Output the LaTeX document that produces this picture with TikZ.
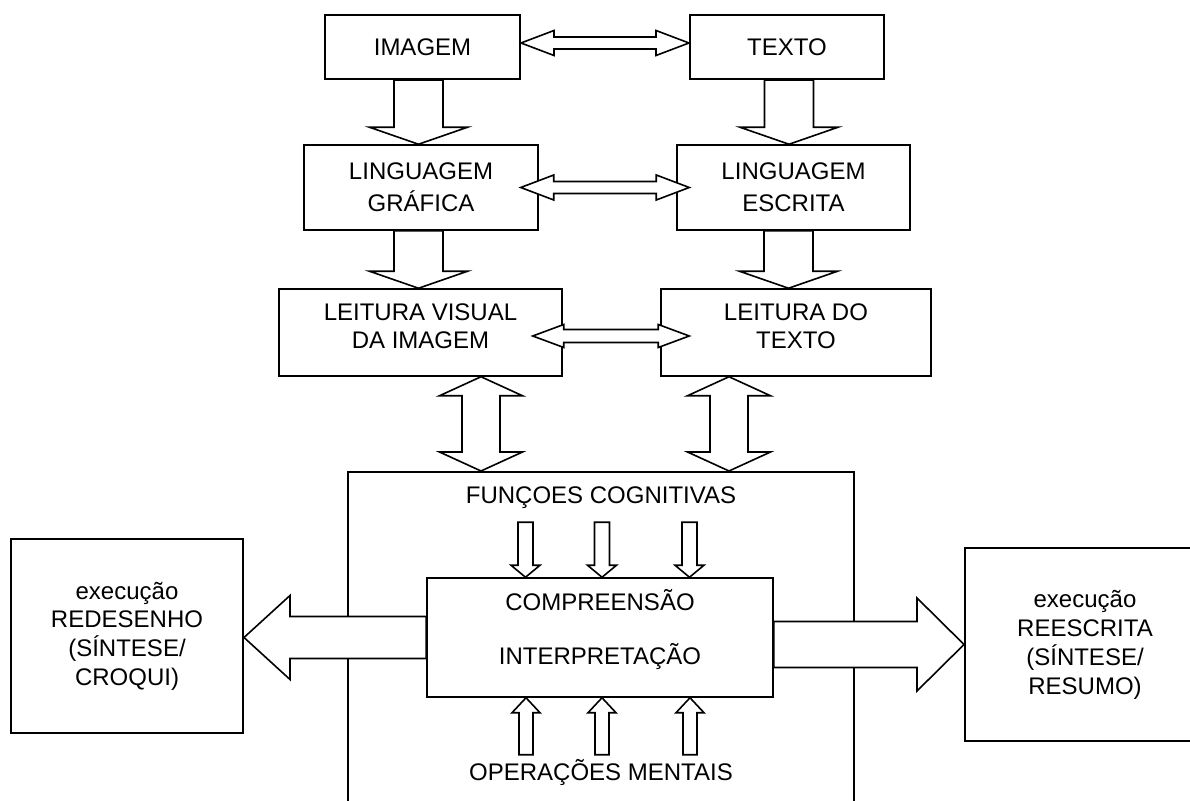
\documentclass[tikz,border=0pt]{standalone}
\usepackage{fontspec}
\setmainfont{Liberation Sans}
\usetikzlibrary{calc,positioning}
\tikzstyle{caixa} = [rectangle, draw=black, line width=0.75pt, text centered, align=center, inner sep=0pt]
\tikzstyle{caixa2} = [caixa, line width=1pt]
\tikzstyle{rotulo} = [align=center, inner sep=0pt]
\tikzset{
  seta/.style n args={3}{draw=black, fill=white, line width=0.8pt, to path={
    ($(\tikztostart)!#1!90:(\tikztotarget)$)
    -- ($($(\tikztotarget)!#3!(\tikztostart)$)!#1!90:(\tikztotarget)$)
    -- ($($(\tikztotarget)!#3!(\tikztostart)$)!#2!90:(\tikztotarget)$)
    -- (\tikztotarget)
    -- ($($(\tikztotarget)!#3!(\tikztostart)$)!#2!-90:(\tikztotarget)$)
    -- ($($(\tikztotarget)!#3!(\tikztostart)$)!#1!-90:(\tikztotarget)$)
    -- ($(\tikztostart)!#1!-90:(\tikztotarget)$)
    -- cycle}},
  setadupla/.style n args={3}{draw=black, fill=white, line width=0.8pt, to path={
    (\tikztostart)
    -- ($($(\tikztostart)!#3!(\tikztotarget)$)!#2!90:(\tikztotarget)$)
    -- ($($(\tikztostart)!#3!(\tikztotarget)$)!#1!90:(\tikztotarget)$)
    -- ($($(\tikztotarget)!#3!(\tikztostart)$)!#1!90:(\tikztotarget)$)
    -- ($($(\tikztotarget)!#3!(\tikztostart)$)!#2!90:(\tikztotarget)$)
    -- (\tikztotarget)
    -- ($($(\tikztotarget)!#3!(\tikztostart)$)!#2!-90:(\tikztotarget)$)
    -- ($($(\tikztotarget)!#3!(\tikztostart)$)!#1!-90:(\tikztotarget)$)
    -- ($($(\tikztostart)!#3!(\tikztotarget)$)!#1!-90:(\tikztotarget)$)
    -- ($($(\tikztostart)!#3!(\tikztotarget)$)!#2!-90:(\tikztotarget)$)
    -- cycle}}
}
\begin{document}
\begin{tikzpicture}[x=0.5pt, y=-0.5pt, font=\fontsize{12}{14}\selectfont]
\useasboundingbox[fill=white] (0,0) rectangle (1190,801);
\clip (0,0) rectangle (1190,801);
% imagem e texto
\node (img) [caixa2, minimum width=97.5pt, minimum height=32pt] at (422.5,47) {IMAGEM};
\node (txt) [caixa2, minimum width=97pt, minimum height=32pt] at (787,47) {TEXTO};
% linguagens
\node (lgraf) [caixa, minimum width=117pt, minimum height=42.5pt] at (421,187.5) {LINGUAGEM\\[2pt]GRÁFICA};
\node (lescr) [caixa, minimum width=116.5pt, minimum height=42.5pt] at (793.5,187.5) {LINGUAGEM\\[2pt]ESCRITA};
% leituras
\node (lvis) [caixa, minimum width=141.5pt, minimum height=43.5pt] at (420.5,332.5) {};
\node (lvistxt) [rotulo] at ([yshift=3pt]lvis.center) {LEITURA VISUAL\\DA IMAGEM};
\node (ltex) [caixa, minimum width=135pt, minimum height=43.5pt] at (796,332.5) {};
\node (ltextxt) [rotulo] at ([yshift=3pt]ltex.center) {LEITURA DO\\TEXTO};
% quadro central
\node (quadro) [caixa2, minimum width=253pt, minimum height=179pt] at (601,651) {};
\node (fc) [rotulo] at (601,498) {FUNÇOES COGNITIVAS};
\node (nucleo) [caixa, minimum width=173pt, minimum height=59.5pt] at (600,637.5) {};
\node (nucleotxt) [rotulo] at ([yshift=4pt]nucleo.center) {COMPREENSÃO\\[13pt]INTERPRETAÇÃO};
\node (om) [rotulo] at (601,773) {OPERAÇÕES MENTAIS};
% execucoes
\node (redes) [caixa2, minimum width=116pt, minimum height=97pt, font=\fontsize{12}{14.3}\selectfont] at (127,636) {execução\\REDESENHO\\(SÍNTESE/\\CROQUI)};
\node (reesc) [caixa2, minimum width=120pt, minimum height=96.5pt, font=\fontsize{12}{14.5}\selectfont] at (1085,644.5) {execução\\REESCRITA\\(SÍNTESE/\\RESUMO)};

% setas duplas horizontais
\draw [setadupla={3pt}{6.25pt}{16.5pt}] ([yshift=2pt]img.east) to ([yshift=2pt]txt.west);
\draw [setadupla={3pt}{6.25pt}{16.5pt}] ([xshift=-9pt]lgraf.east) to ([xshift=6.5pt]lescr.west);
\draw [setadupla={3.25pt}{5.75pt}{15.5pt}] ([xshift=-15pt,yshift=-1.75pt]lvis.east) to ([xshift=14.5pt,yshift=-1.75pt]ltex.west);
% setas para baixo
\coordinate (d1) at ([xshift=-2pt]img.south);
\coordinate (d2) at ([xshift=1pt]txt.south);
\coordinate (d3) at ([xshift=-1.25pt]lgraf.south);
\coordinate (d4) at ([xshift=-2.5pt]lescr.south);
\draw [seta={12.25pt}{24.5pt}{8.5pt}] (d1) to (d1 |- lgraf.north);
\draw [seta={12.25pt}{24.5pt}{8.5pt}] (d2) to (d2 |- lescr.north);
\draw [seta={12.25pt}{24.5pt}{8.5pt}] (d3) to (d3 |- lvis.north);
\draw [seta={12.25pt}{24.5pt}{8.5pt}] (d4) to (d4 |- ltex.north);
% setas duplas verticais
\coordinate (v1) at ([xshift=30.25pt]lvis.south);
\coordinate (v2) at ([xshift=-33.5pt]ltex.south);
\draw [setadupla={9.5pt}{20.75pt}{9.5pt}] (v1) to (v1 |- quadro.north);
\draw [setadupla={9.5pt}{20.75pt}{9.5pt}] (v2) to (v2 |- quadro.north);
% setinhas
\foreach \dx [count=\i] in {-37.25,1,44.75} {
  \coordinate (cima\i) at ([xshift=\dx pt,yshift=27.5pt]nucleo.north);
  \draw [seta={3.75pt}{7.25pt}{6pt}] (cima\i) to (cima\i |- nucleo.north);
}
\foreach \dx [count=\i] in {-37,1,45} {
  \coordinate (baixo\i) at ([xshift=\dx pt,yshift=-28.5pt]nucleo.south);
  \draw [seta={3.5pt}{7pt}{7.5pt}] (baixo\i) to (baixo\i |- nucleo.south);
}
% setas laterais
\draw [seta={10.5pt}{21pt}{23pt}] (nucleo.west) to (nucleo.west -| redes.east);
\draw [seta={11.5pt}{23.25pt}{23.5pt}] (nucleo.east |- reesc.west) to (reesc.west);
\end{tikzpicture}
\end{document}
